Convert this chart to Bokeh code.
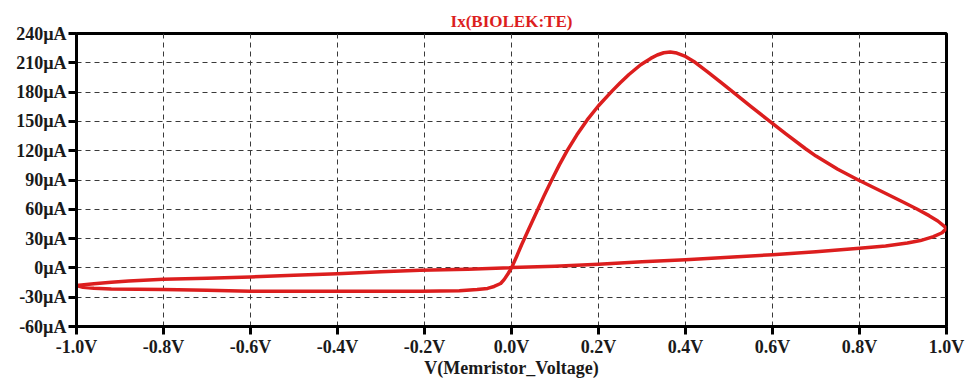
from bokeh.plotting import figure
from bokeh.models import Range1d, FixedTicker
from bokeh.embed import file_html
from bokeh.resources import INLINE

# ---- data (voltage in V, current in µA) ----
v_rise = [0.0, 0.012, 0.023, 0.04, 0.058, 0.075, 0.093, 0.11, 0.128, 0.15, 0.174, 0.2, 0.231,
          0.25, 0.27, 0.297, 0.32, 0.335, 0.35, 0.365, 0.38, 0.4, 0.422, 0.45, 0.48, 0.508,
          0.55, 0.588, 0.63, 0.676, 0.7, 0.75, 0.795, 0.85, 0.9, 0.933, 0.96, 0.98, 1.0]
i_rise = [0.0, 12, 23.5, 40, 57.5, 74, 90.5, 105.5, 120, 136, 151.5, 166, 181,
          189.5, 198, 208, 214.5, 218, 220.3, 221, 220, 216.5, 210.5, 201, 190.5, 180.5,
          165.5, 152, 137.5, 122, 114.5, 101, 90.5, 78.5, 67.5, 60, 53.5, 48, 40.7]

v_fall = [1.0, 0.99, 0.97, 0.94, 0.91, 0.86, 0.8, 0.7, 0.6, 0.5, 0.4, 0.3, 0.2, 0.1, 0.0]
i_fall = [40.7, 36, 32, 28, 25.4, 22.5, 20, 16.5, 13.5, 11, 8.4, 6.2, 3.8, 1.8, 0.3]

v_neg_out = [-0.1, -0.21, -0.3, -0.4, -0.5, -0.6, -0.7, -0.8, -0.88, -0.92, -0.96, -1.0]
i_neg_out = [-1.3, -2.5, -4, -6, -7.5, -9.3, -10.5, -11.5, -13.5, -14.8, -16.2, -18]

v_neg_back = [-0.985, -0.96, -0.92, -0.8, -0.7, -0.6, -0.4, -0.21, -0.12, -0.079, -0.055, -0.04,
              -0.025, -0.017, -0.008, 0.0]
i_neg_back = [-19.8, -20.8, -21.5, -22.2, -23, -23.8, -24, -24, -23.5, -22.2, -21, -19,
              -16, -12, -6, 0.0]

x_ticks = [-1.0, -0.8, -0.6, -0.4, -0.2, 0.0, 0.2, 0.4, 0.6, 0.8, 1.0]
x_tick_labels = ["-1.0V", "-0.8V", "-0.6V", "-0.4V", "-0.2V", "0.0V", "0.2V", "0.4V", "0.6V", "0.8V", "1.0V"]
y_ticks = [-60, -30, 0, 30, 60, 90, 120, 150, 180, 210, 240]
y_tick_labels = ["-60µA", "-30µA", "0µA", "30µA", "60µA", "90µA", "120µA", "150µA", "180µA", "210µA", "240µA"]

title_text = "Ix(BIOLEK:TE)"
x_title = "V(Memristor_Voltage)"

FONT = "Liberation Serif"
RED = "#dc1e1e"
INK = "#1a1a1a"

p = figure(width=970, height=381, output_backend="svg", toolbar_location=None,
           x_range=Range1d(-1.0, 1.0), y_range=Range1d(-60, 240),
           min_border_left=76, min_border_right=24, min_border_top=33, min_border_bottom=55)

p.background_fill_color = "white"
p.border_fill_color = "white"
p.outline_line_color = "black"
p.outline_line_width = 3

p.title.text = title_text
p.title.align = "center"
p.title.text_font = FONT
p.title.text_font_style = "bold"
p.title.text_font_size = "17px"
p.title.text_color = RED
p.title.standoff = 5

v_all = v_rise + v_fall[1:] + v_neg_out + v_neg_back
i_all = i_rise + i_fall[1:] + i_neg_out + i_neg_back
p.line(v_all, i_all, line_color=RED, line_width=3.5, line_join="round")

p.xaxis.ticker = FixedTicker(ticks=x_ticks)
p.yaxis.ticker = FixedTicker(ticks=y_ticks)
p.xaxis.major_label_overrides = dict(zip(x_ticks, x_tick_labels))
p.yaxis.major_label_overrides = dict(zip(y_ticks, y_tick_labels))

for ax in (p.xaxis, p.yaxis):
    ax.axis_line_width = 3
    ax.axis_line_color = "black"
    ax.major_tick_in = 0
    ax.major_tick_out = 8
    ax.major_tick_line_width = 3
    ax.minor_tick_line_color = None
    ax.major_label_text_font = FONT
    ax.major_label_text_font_style = "bold"
    ax.major_label_text_font_size = "18px"
    ax.major_label_text_color = INK
p.xaxis.major_label_standoff = 2
p.yaxis.major_label_standoff = 2

p.xaxis.axis_label = x_title
p.xaxis.axis_label_text_font = FONT
p.xaxis.axis_label_text_font_style = "bold"
p.xaxis.axis_label_text_font_size = "18px"
p.xaxis.axis_label_text_color = INK
p.xaxis.axis_label_standoff = -2

for g in (p.xgrid, p.ygrid):
    g.grid_line_color = "#3a3a3a"
    g.grid_line_dash = "5 4"
    g.grid_line_width = 1

open("out.html", "w").write(file_html(p, INLINE))
